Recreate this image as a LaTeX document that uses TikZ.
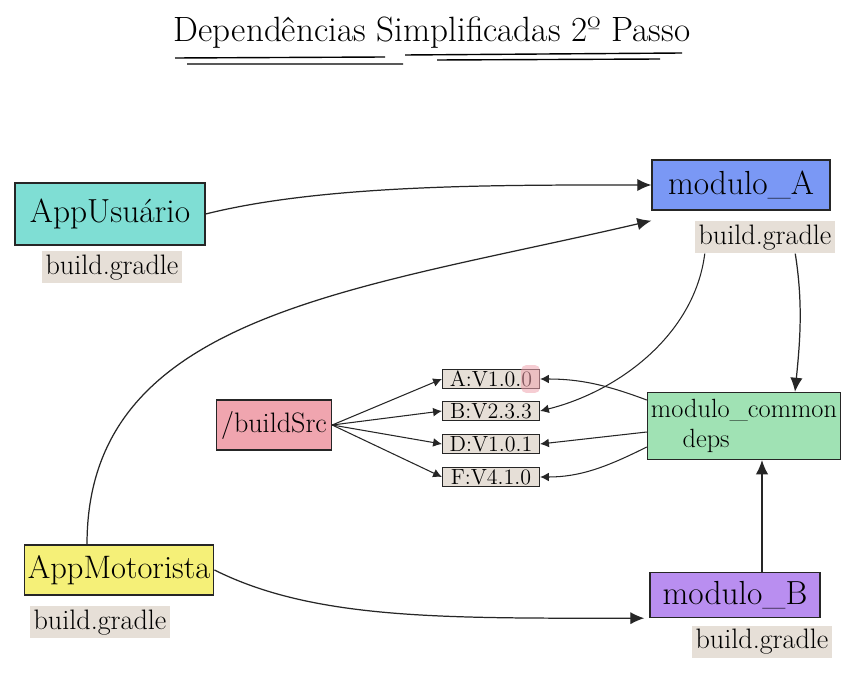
\documentclass[tikz,border=0pt]{standalone}
\usepackage{fontspec}
\usetikzlibrary{arrows.meta,positioning,calc}
\definecolor{usucol}{RGB}{127,222,212}
\definecolor{acol}{RGB}{122,152,245}
\definecolor{srccol}{RGB}{240,165,175}
\definecolor{comcol}{RGB}{160,226,180}
\definecolor{motcol}{RGB}{245,240,120}
\definecolor{bcol}{RGB}{185,142,240}
\definecolor{tagcol}{RGB}{230,223,215}

\begin{document}
\begin{tikzpicture}[x=0.02cm, y=-0.02cm,
  box/.style={draw=black!85, line width=0.8pt, fill=#1, inner sep=2pt,
    font=\fontsize{19}{21}\selectfont},
  tag/.style={fill=tagcol, inner sep=2pt, font=\fontsize{16}{18}\selectfont},
  ver/.style={draw=black!85, line width=0.7pt, fill=tagcol, inner sep=1pt,
    minimum width=1.94cm, minimum height=0.38cm, font=\fontsize{12.5}{13}\selectfont},
  arr/.style={-{Latex[length=8pt,width=7pt]}, line width=0.7pt, black!85},
  arrs/.style={-{Latex[length=5pt,width=5pt]}, line width=0.6pt, black!85}]
  \useasboundingbox (0,0) rectangle (865,689);
  \fill[white] (0,0) rectangle (865,689);
  % ---- title ----
  \node[font=\fontsize{20}{24}\selectfont] (title) at (432,33) {Dependências Simplificadas 2º Passo};
  \draw[line width=0.8pt] (175,58) -- (385,57) (187,64) -- (403,64);
  \draw[line width=0.8pt] (405,55) -- (682,53) (437,60) -- (660,59);
  % ---- apps ----
  \node[box=usucol, minimum width=3.8cm, minimum height=1.24cm] (usu) at (110,214) {AppUsuário};
  \node[tag, below=0.1cm of usu, xshift=0.04cm] (tagU) {build.gradle};
  \node[box=motcol, minimum width=3.76cm, minimum height=1cm,
    font=\fontsize{18.5}{21}\selectfont] (mot) at (119,570) {AppMotorista};
  \node[tag, below=0.2cm of mot, xshift=-0.38cm] (tagM) {build.gradle};
  % ---- modules ----
  \node[box=acol, minimum width=3.56cm, minimum height=1cm] (modA) at (741,185) {modulo\_A};
  \node[tag, below=0.2cm of modA, xshift=0.48cm] (tagA) {build.gradle};
  \node[box=bcol, minimum width=3.4cm, minimum height=0.9cm] (modB) at (735,595) {modulo\_B};
  \node[tag, below=0.14cm of modB, xshift=0.54cm] (tagB) {build.gradle};
  \node[box=comcol, minimum width=3.84cm, minimum height=1.34cm, align=left,
    font=\fontsize{15}{17}\selectfont] (common) at (744,426) {modulo\_common\\\hspace{1.2em}deps};
  % ---- buildSrc and versions ----
  \node[box=srccol, minimum width=2.3cm, minimum height=1cm,
    font=\fontsize{16}{18}\selectfont] (src) at (274,425) {/buildSrc};
  \foreach \n/\t/\y in {verA/A:V1.0.0/379, verB/B:V2.3.3/411, verD/D:V1.0.1/444, verF/F:V4.1.0/477}
    \node[ver] (\n) at (491,\y) {\t};
  \fill[srccol, opacity=0.55, rounded corners=3pt]
    ([xshift=-0.38cm,yshift=-0.28cm]verA.east) rectangle ([yshift=0.28cm]verA.east);
  \foreach \n in {verA,verB,verD,verF} \draw[arrs] (src.east) -- (\n.west);
  % ---- connectors ----
  \draw[arr] (usu.east) .. controls +(120,-30) and +(-150,0) .. (modA.west);
  \draw[arr] ([xshift=-0.64cm]mot.north) .. controls +(0,-230) and +(-300,70) .. ([yshift=-0.2cm]modA.south west);
  \draw[arr] (mot.east) .. controls +(100,50) and +(-200,0) .. ([xshift=-0.1cm]modB.south west);
  \draw[arrs] ([xshift=0.2cm]tagA.south west) .. controls +(-10,80) and +(80,-20) .. (verB.east);
  \draw[arr] ([xshift=-0.8cm]tagA.south east) .. controls +(8,50) and +(5,-50) .. ([xshift=1.02cm]common.north);
  \draw[arr] ([xshift=0.54cm]modB.north) -- ([xshift=0.54cm]modB.north |- common.south);
  \draw[arrs] ([yshift=0.52cm]common.west) .. controls +(-40,-15) and +(40,0) .. (verA.east);
  \draw[arrs] ([yshift=-0.12cm]common.west) -- (verD.east);
  \draw[arrs] ([yshift=-0.42cm]common.west) .. controls +(-40,20) and +(40,0) .. (verF.east);
\end{tikzpicture}
\end{document}
